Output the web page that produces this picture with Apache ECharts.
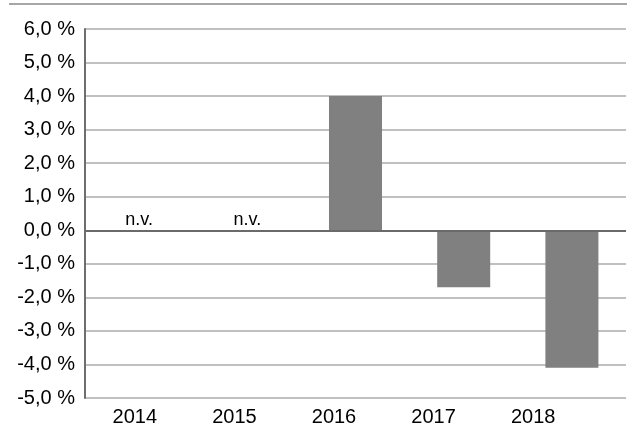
<!DOCTYPE html>
<html>
<head>
<meta charset="utf-8">
<script src="https://cdn.jsdelivr.net/npm/echarts@6/dist/echarts.min.js"></script>
<style>
  html, body { margin: 0; padding: 0; background: #ffffff; }
  #chart { width: 627px; height: 427px; }
</style>
</head>
<body>
<div id="chart"></div>
<script>
// Yearly change in percent; 2014 and 2015 have no value ("n.v.")
const years = ['2014', '2015', '2016', '2017', '2018'];
const changes = [null, null, 4.0, -1.7, -4.1];
const missingLabel = 'n.v.';
const yMin = -5, yMax = 6, yStep = 1;

const FONT = '"Liberation Sans", Arial, sans-serif';

const barData = changes.map(v => v === null
  ? { value: 0, label: { show: true, formatter: missingLabel } }
  : { value: v, label: { show: false } });

const chart = echarts.init(document.getElementById('chart'), null, { renderer: 'canvas' });
chart.setOption({
  animation: false,
  backgroundColor: '#ffffff',
  graphic: [{
    type: 'line',
    shape: { x1: 9, y1: 4, x2: 627, y2: 4 },
    style: { stroke: '#a6a6a6', lineWidth: 2 }
  }],
  grid: [
    { left: 85, right: 1, top: 29, bottom: 29, containLabel: false },
    { left: 85, right: 44, top: 29, bottom: 29, containLabel: false }
  ],
  xAxis: [
    {
      gridIndex: 0,
      type: 'category',
      data: years,
      axisLine: { show: false },
      axisTick: { show: false },
      axisLabel: { show: false },
      splitLine: { show: false }
    },
    {
      gridIndex: 1,
      type: 'category',
      data: years,
      position: 'bottom',
      axisLine: { show: false },
      axisTick: { show: false },
      axisLabel: { show: true, color: '#000000', fontFamily: FONT, fontSize: 20, margin: 14 },
      splitLine: { show: false }
    }
  ],
  yAxis: [
    {
      gridIndex: 0,
      type: 'value',
      min: yMin,
      max: yMax,
      interval: yStep,
      axisLine: { show: true, onZero: false, lineStyle: { color: '#6e6e6e', width: 2 } },
      axisTick: { show: false },
      axisLabel: {
        color: '#000000', fontFamily: FONT, fontSize: 20, margin: 10,
        formatter: v => v.toFixed(1).replace('.', ',') + ' %'
      },
      splitLine: { show: true, lineStyle: { color: '#ababab', width: 1.5 } }
    },
    {
      gridIndex: 1,
      type: 'value',
      min: yMin,
      max: yMax,
      show: false
    }
  ],
  series: [
    {
      type: 'bar',
      xAxisIndex: 0,
      yAxisIndex: 0,
      data: barData,
      barWidth: '49%',
      itemStyle: { color: '#808080' },
      label: {
        position: 'top',
        distance: 1,
        color: '#000000',
        fontFamily: FONT,
        fontSize: 18
      },
      markLine: {
        silent: true,
        symbol: 'none',
        label: { show: false },
        lineStyle: { color: '#6a6a6a', width: 2, type: 'solid' },
        data: [{ yAxis: 0 }]
      },
      z: 3
    }
  ]
});
</script>
</body>
</html>
